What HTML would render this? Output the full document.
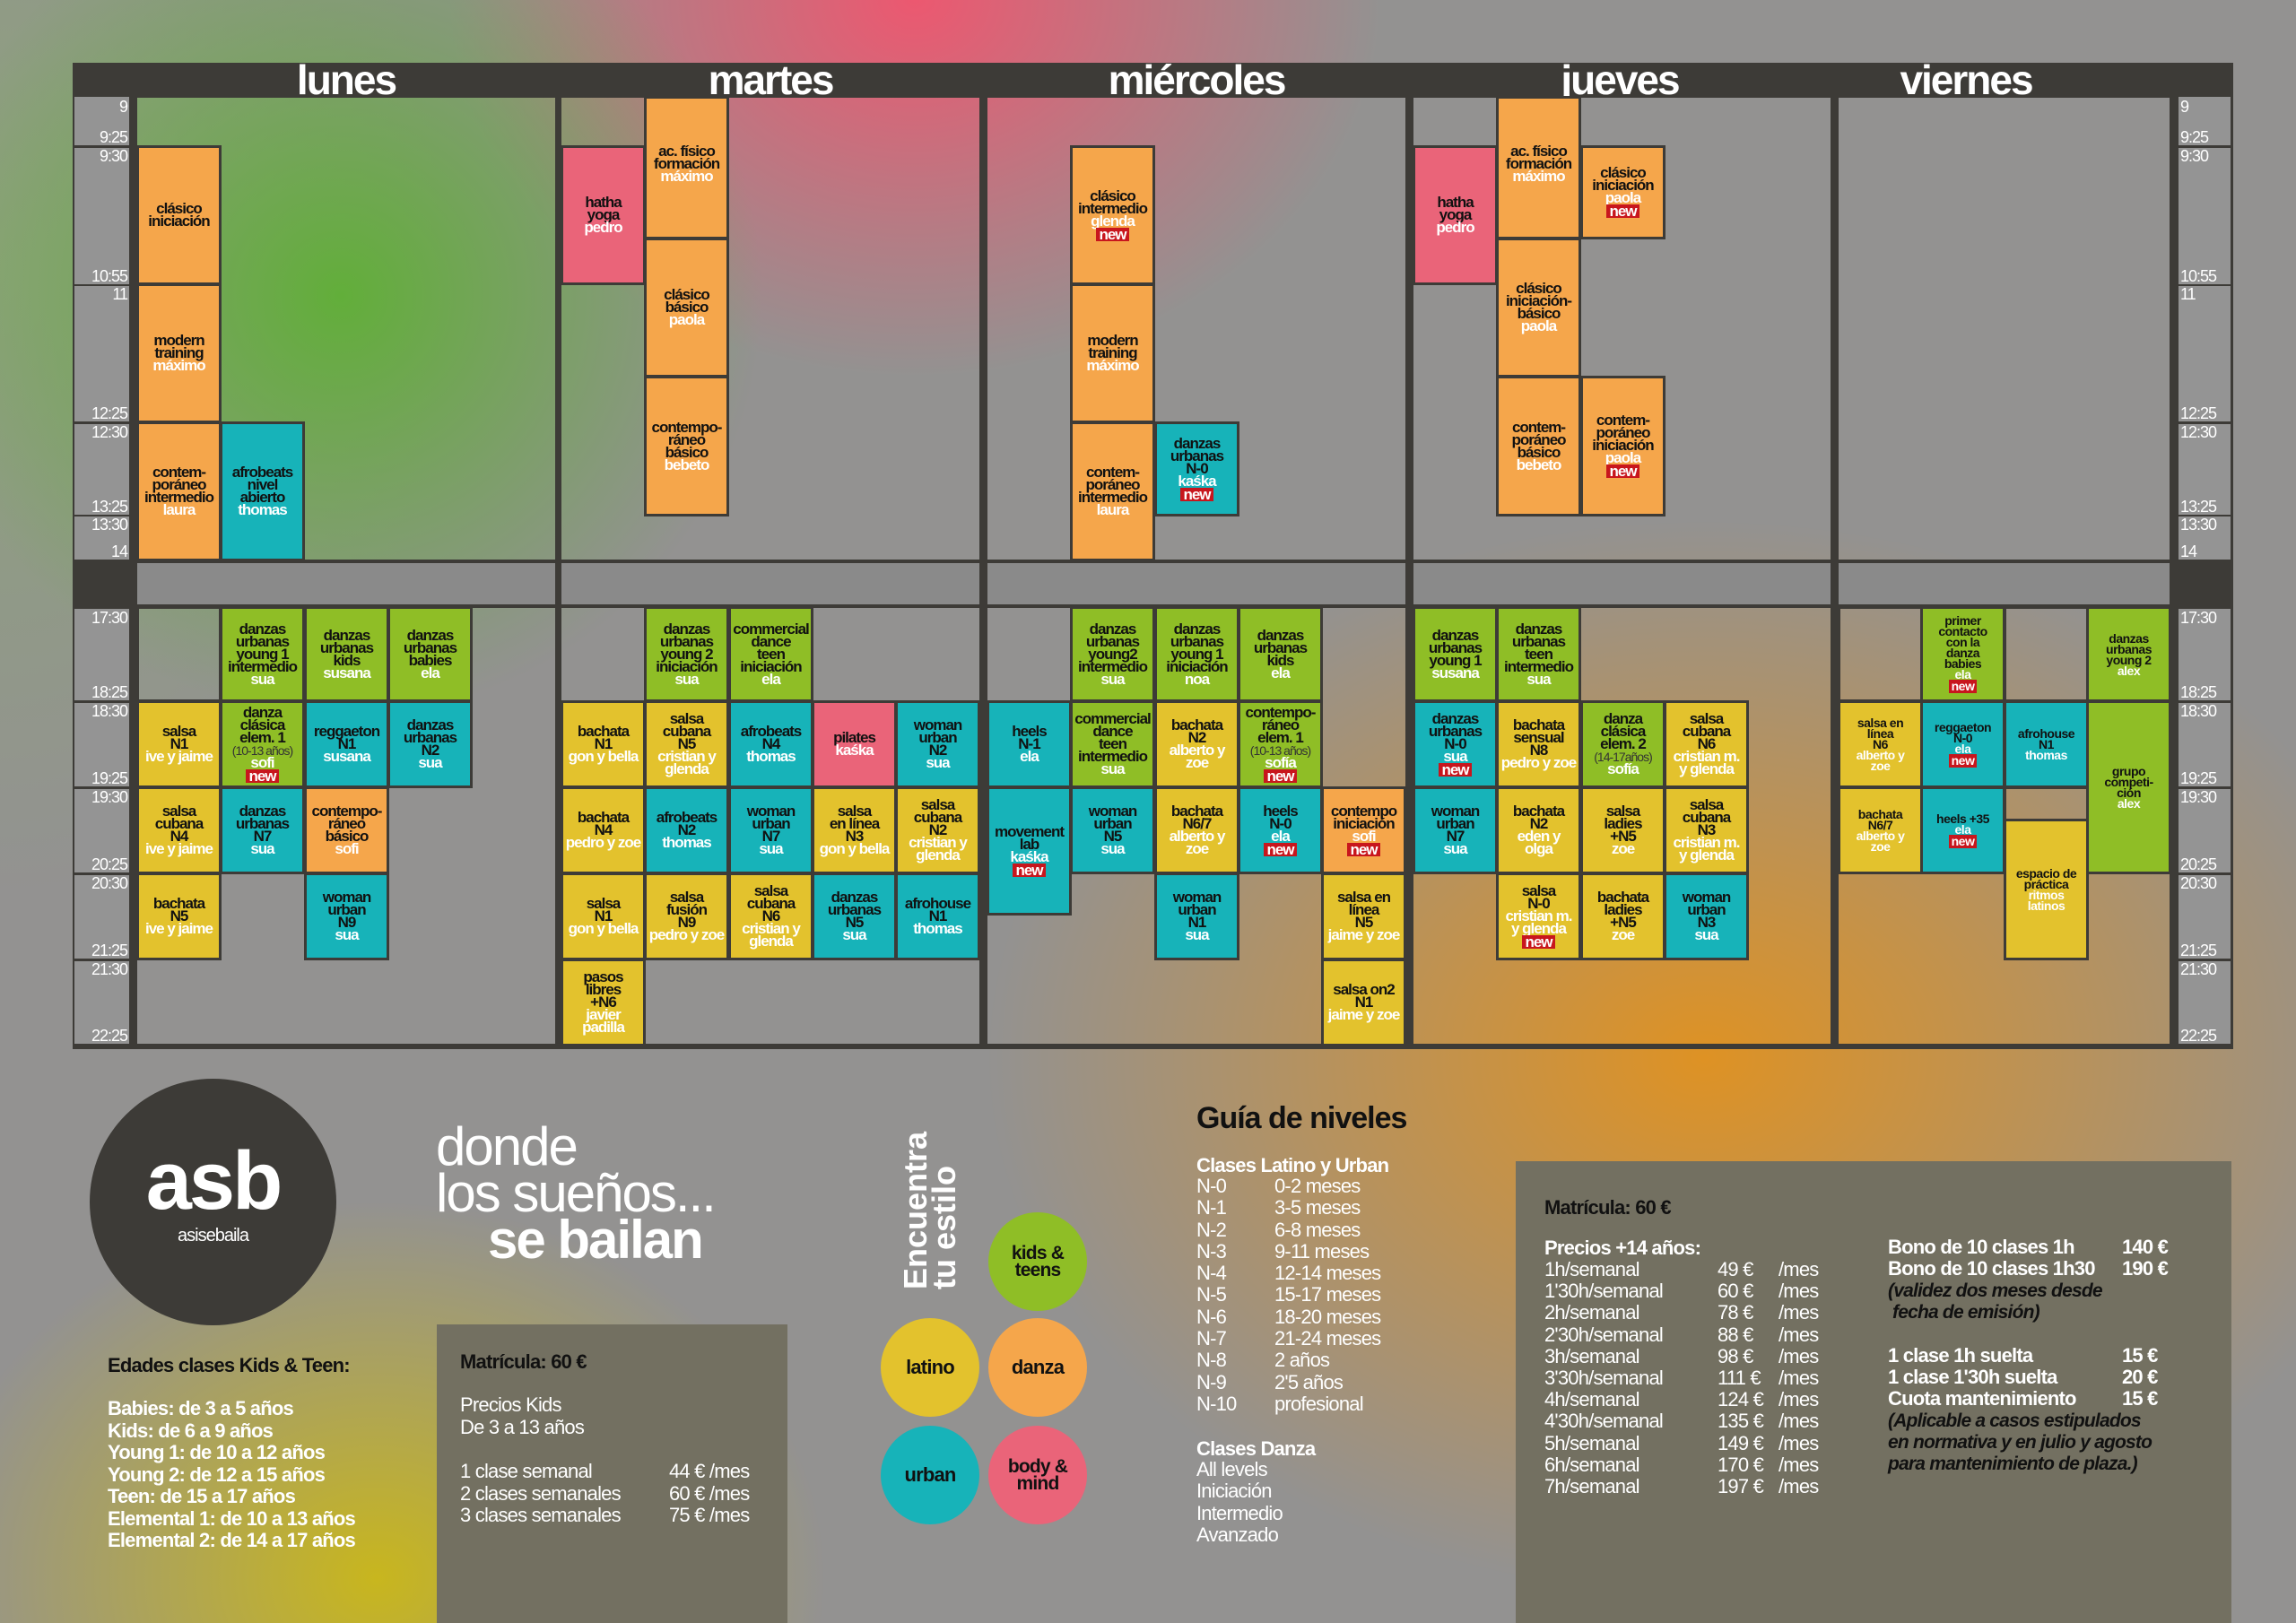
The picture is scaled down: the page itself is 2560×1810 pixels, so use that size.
<!DOCTYPE html>
<html><head><meta charset="utf-8"><style>
*{margin:0;padding:0;box-sizing:border-box}
body{width:2560px;height:1810px;position:relative;overflow:hidden;font-family:"Liberation Sans",sans-serif;
background:
radial-gradient(circle 470px at 380px 330px,rgba(98,174,58,1),rgba(98,174,58,0)),
radial-gradient(ellipse 520px 420px at 1020px 0px,rgba(236,88,112,1),rgba(236,88,112,0)),
radial-gradient(ellipse 800px 600px at 1900px 1180px,rgba(222,146,36,1),rgba(222,146,36,0)),
radial-gradient(ellipse 500px 420px at 420px 1760px,rgba(200,182,30,1),rgba(200,182,30,0)),
radial-gradient(ellipse 500px 700px at 0px 300px,rgba(140,165,120,.8),rgba(140,165,120,0)),
#939291;}
.a{position:absolute}
.dk{position:absolute;background:#3d3b37}
.gc{position:absolute;background:#949494}
.h{position:absolute;top:62px;color:#fff;font-weight:bold;font-size:46px;letter-spacing:-2px;transform:translateX(-50%)}
.tl,.tr{position:absolute;color:#fff;font-family:"Liberation Sans Narrow","Liberation Sans",sans-serif;font-size:18px;line-height:18px;letter-spacing:-1px}
.tl{left:83px;width:59px;text-align:right}
.tr{left:2431px}
.b{position:absolute;width:95px;border:3px solid #3d3b37;display:flex;flex-direction:column;justify-content:center;align-items:center;text-align:center;font-family:"Liberation Sans Narrow","Liberation Sans",sans-serif;font-weight:bold;font-size:17px;line-height:14px;letter-spacing:-1px;color:#111;white-space:nowrap}
.b i{font-style:normal;color:#fff}
.b u{text-decoration:none;background:#c8161d;color:#fff;padding:0 3px;line-height:15px}
.b s{text-decoration:none;font-weight:normal;color:#333;font-size:14px;letter-spacing:-1px;white-space:nowrap}
.v{font-family:"Liberation Sans",sans-serif;font-size:14px;line-height:12px;letter-spacing:-.5px}
.O{background:#f5a64b}.T{background:#17b3b9}.G{background:#8fbe26}.Y{background:#e3c22d}.P{background:#ea6479}.E{background:transparent}
</style></head><body>
<div class="dk" style="left:81px;top:70px;width:2409px;height:39px"></div>
<div class="dk" style="left:81px;top:108px;width:72px;height:1062px"></div>
<div class="dk" style="left:619px;top:108px;width:7px;height:1062px"></div>
<div class="dk" style="left:1092px;top:108px;width:9px;height:1062px"></div>
<div class="dk" style="left:1567px;top:108px;width:9px;height:1062px"></div>
<div class="dk" style="left:2041px;top:108px;width:9px;height:1062px"></div>
<div class="dk" style="left:2419px;top:108px;width:71px;height:1062px"></div>
<div class="dk" style="left:81px;top:1164px;width:2409px;height:6px"></div>
<div class="dk" style="left:153px;top:624px;width:2267px;height:54px"></div>
<div class="a" style="left:153px;top:628px;width:466px;height:46px;background:#8a8a8a"></div>
<div class="a" style="left:626px;top:628px;width:466px;height:46px;background:#8a8a8a"></div>
<div class="a" style="left:1101px;top:628px;width:466px;height:46px;background:#8a8a8a"></div>
<div class="a" style="left:1576px;top:628px;width:465px;height:46px;background:#8a8a8a"></div>
<div class="a" style="left:2050px;top:628px;width:369px;height:46px;background:#8a8a8a"></div>
<div class="gc" style="left:83px;top:108px;width:61px;height:54px"></div>
<div class="gc" style="left:83px;top:165px;width:61px;height:152px"></div>
<div class="gc" style="left:83px;top:319px;width:61px;height:151px"></div>
<div class="gc" style="left:83px;top:473px;width:61px;height:101px"></div>
<div class="gc" style="left:83px;top:576px;width:61px;height:48px"></div>
<div class="gc" style="left:83px;top:679px;width:61px;height:102px"></div>
<div class="gc" style="left:83px;top:784px;width:61px;height:93px"></div>
<div class="gc" style="left:83px;top:880px;width:61px;height:93px"></div>
<div class="gc" style="left:83px;top:976px;width:61px;height:93px"></div>
<div class="gc" style="left:83px;top:1072px;width:61px;height:92px"></div>
<div class="gc" style="left:2429px;top:108px;width:58px;height:54px"></div>
<div class="gc" style="left:2429px;top:165px;width:58px;height:152px"></div>
<div class="gc" style="left:2429px;top:319px;width:58px;height:151px"></div>
<div class="gc" style="left:2429px;top:473px;width:58px;height:101px"></div>
<div class="gc" style="left:2429px;top:576px;width:58px;height:48px"></div>
<div class="gc" style="left:2429px;top:679px;width:58px;height:102px"></div>
<div class="gc" style="left:2429px;top:784px;width:58px;height:93px"></div>
<div class="gc" style="left:2429px;top:880px;width:58px;height:93px"></div>
<div class="gc" style="left:2429px;top:976px;width:58px;height:93px"></div>
<div class="gc" style="left:2429px;top:1072px;width:58px;height:92px"></div>
<div class="h" style="left:386px">lunes</div>
<div class="h" style="left:859px">martes</div>
<div class="h" style="left:1334px">miércoles</div>
<div class="h" style="left:1806px">jueves</div>
<div class="h" style="left:2192px">viernes</div>
<div class="tl" style="top:110px">9</div><div class="tl" style="top:144px">9:25</div>
<div class="tl" style="top:165px">9:30</div><div class="tl" style="top:299px">10:55</div>
<div class="tl" style="top:319px">11</div><div class="tl" style="top:452px">12:25</div>
<div class="tl" style="top:473px">12:30</div><div class="tl" style="top:556px">13:25</div>
<div class="tl" style="top:576px">13:30</div><div class="tl" style="top:606px">14</div>
<div class="tl" style="top:680px">17:30</div><div class="tl" style="top:763px">18:25</div>
<div class="tl" style="top:784px">18:30</div><div class="tl" style="top:859px">19:25</div>
<div class="tl" style="top:880px">19:30</div><div class="tl" style="top:955px">20:25</div>
<div class="tl" style="top:976px">20:30</div><div class="tl" style="top:1051px">21:25</div>
<div class="tl" style="top:1072px">21:30</div><div class="tl" style="top:1146px">22:25</div>
<div class="tr" style="top:110px">9</div><div class="tr" style="top:144px">9:25</div>
<div class="tr" style="top:165px">9:30</div><div class="tr" style="top:299px">10:55</div>
<div class="tr" style="top:319px">11</div><div class="tr" style="top:452px">12:25</div>
<div class="tr" style="top:473px">12:30</div><div class="tr" style="top:556px">13:25</div>
<div class="tr" style="top:576px">13:30</div><div class="tr" style="top:606px">14</div>
<div class="tr" style="top:680px">17:30</div><div class="tr" style="top:763px">18:25</div>
<div class="tr" style="top:784px">18:30</div><div class="tr" style="top:859px">19:25</div>
<div class="tr" style="top:880px">19:30</div><div class="tr" style="top:955px">20:25</div>
<div class="tr" style="top:976px">20:30</div><div class="tr" style="top:1051px">21:25</div>
<div class="tr" style="top:1072px">21:30</div><div class="tr" style="top:1146px">22:25</div>

<div class="b O" style="left:152px;top:162px;height:156px">clásico<br>iniciación</div>
<div class="b O" style="left:152px;top:316px;height:156px">modern<br>training<br><i>máximo</i></div>
<div class="b O" style="left:152px;top:470px;height:156px">contem-<br>poráneo<br>intermedio<br><i>laura</i></div>
<div class="b T" style="left:245px;top:470px;height:156px">afrobeats<br>nivel<br>abierto<br><i>thomas</i></div>
<div class="b P" style="left:625px;top:162px;height:156px">hatha<br>yoga<br><i>pedro</i></div>
<div class="b O" style="left:718px;top:107px;height:160px;justify-content:flex-start;padding-top:52px">ac. físico<br>formación<br><i>máximo</i></div>
<div class="b O" style="left:718px;top:265px;height:156px">clásico<br>básico<br><i>paola</i></div>
<div class="b O" style="left:718px;top:419px;height:157px">contempo-<br>ráneo<br>básico<br><i>bebeto</i></div>
<div class="b O" style="left:1193px;top:162px;height:156px">clásico<br>intermedio<br><i>glenda</i><u>new</u></div>
<div class="b O" style="left:1193px;top:316px;height:156px">modern<br>training<br><i>máximo</i></div>
<div class="b O" style="left:1193px;top:470px;height:156px">contem-<br>poráneo<br>intermedio<br><i>laura</i></div>
<div class="b T" style="left:1287px;top:470px;height:106px">danzas<br>urbanas<br>N-0<br><i>kaśka</i><u>new</u></div>
<div class="b P" style="left:1575px;top:162px;height:156px">hatha<br>yoga<br><i>pedro</i></div>
<div class="b O" style="left:1668px;top:107px;height:160px;justify-content:flex-start;padding-top:52px">ac. físico<br>formación<br><i>máximo</i></div>
<div class="b O" style="left:1668px;top:265px;height:156px">clásico<br>iniciación-<br>básico<br><i>paola</i></div>
<div class="b O" style="left:1668px;top:419px;height:157px">contem-<br>poráneo<br>básico<br><i>bebeto</i></div>
<div class="b O" style="left:1762px;top:162px;height:105px">clásico<br>iniciación<br><i>paola</i><u>new</u></div>
<div class="b O" style="left:1762px;top:419px;height:157px">contem-<br>poráneo<br>iniciación<br><i>paola</i><u>new</u></div>

<div class="b E" style="left:152px;top:676px;height:107px"></div>
<div class="b G" style="left:245px;top:676px;height:107px">danzas<br>urbanas<br>young 1<br>intermedio<br><i>sua</i></div>
<div class="b G" style="left:339px;top:676px;height:107px">danzas<br>urbanas<br>kids<br><i>susana</i></div>
<div class="b G" style="left:432px;top:676px;height:107px">danzas<br>urbanas<br>babies<br><i>ela</i></div>
<div class="b Y" style="left:152px;top:781px;height:98px">salsa<br>N1<br><i>ive y jaime</i></div>
<div class="b G" style="left:245px;top:781px;height:98px">danza<br>clásica<br>elem. 1<br><s>(10-13 años)</s><i>sofi</i><u>new</u></div>
<div class="b T" style="left:339px;top:781px;height:98px">reggaeton<br>N1<br><i>susana</i></div>
<div class="b T" style="left:432px;top:781px;height:98px">danzas<br>urbanas<br>N2<br><i>sua</i></div>
<div class="b Y" style="left:152px;top:877px;height:98px">salsa<br>cubana<br>N4<br><i>ive y jaime</i></div>
<div class="b T" style="left:245px;top:877px;height:98px">danzas<br>urbanas<br>N7<br><i>sua</i></div>
<div class="b O" style="left:339px;top:877px;height:98px">contempo-<br>ráneo<br>básico<br><i>sofi</i></div>
<div class="b Y" style="left:152px;top:973px;height:98px">bachata<br>N5<br><i>ive y jaime</i></div>
<div class="b T" style="left:339px;top:973px;height:98px">woman<br>urban<br>N9<br><i>sua</i></div>
<div class="b G" style="left:718px;top:676px;height:107px">danzas<br>urbanas<br>young 2<br>iniciación<br><i>sua</i></div>
<div class="b G" style="left:812px;top:676px;height:107px">commercial<br>dance<br>teen<br>iniciación<br><i>ela</i></div>
<div class="b Y" style="left:625px;top:781px;height:98px">bachata<br>N1<br><i>gon y bella</i></div>
<div class="b Y" style="left:718px;top:781px;height:98px">salsa<br>cubana<br>N5<br><i>cristian y<br>glenda</i></div>
<div class="b T" style="left:812px;top:781px;height:98px">afrobeats<br>N4<br><i>thomas</i></div>
<div class="b P" style="left:905px;top:781px;height:98px">pilates<br><i>kaśka</i></div>
<div class="b T" style="left:998px;top:781px;height:98px">woman<br>urban<br>N2<br><i>sua</i></div>
<div class="b Y" style="left:625px;top:877px;height:98px">bachata<br>N4<br><i>pedro y zoe</i></div>
<div class="b T" style="left:718px;top:877px;height:98px">afrobeats<br>N2<br><i>thomas</i></div>
<div class="b T" style="left:812px;top:877px;height:98px">woman<br>urban<br>N7<br><i>sua</i></div>
<div class="b Y" style="left:905px;top:877px;height:98px">salsa<br>en línea<br>N3<br><i>gon y bella</i></div>
<div class="b Y" style="left:998px;top:877px;height:98px">salsa<br>cubana<br>N2<br><i>cristian y<br>glenda</i></div>
<div class="b Y" style="left:625px;top:973px;height:98px">salsa<br>N1<br><i>gon y bella</i></div>
<div class="b Y" style="left:718px;top:973px;height:98px">salsa<br>fusión<br>N9<br><i>pedro y zoe</i></div>
<div class="b Y" style="left:812px;top:973px;height:98px">salsa<br>cubana<br>N6<br><i>cristian y<br>glenda</i></div>
<div class="b T" style="left:905px;top:973px;height:98px">danzas<br>urbanas<br>N5<br><i>sua</i></div>
<div class="b T" style="left:998px;top:973px;height:98px">afrohouse<br>N1<br><i>thomas</i></div>
<div class="b Y" style="left:625px;top:1069px;height:98px">pasos<br>libres<br>+N6<br><i>javier<br>padilla</i></div>
<div class="b G" style="left:1193px;top:676px;height:107px">danzas<br>urbanas<br>young2<br>intermedio<br><i>sua</i></div>
<div class="b G" style="left:1287px;top:676px;height:107px">danzas<br>urbanas<br>young 1<br>iniciación<br><i>noa</i></div>
<div class="b G" style="left:1380px;top:676px;height:107px">danzas<br>urbanas<br>kids<br><i>ela</i></div>
<div class="b T" style="left:1100px;top:781px;height:98px">heels<br>N-1<br><i>ela</i></div>
<div class="b G" style="left:1193px;top:781px;height:98px">commercial<br>dance<br>teen<br>intermedio<br><i>sua</i></div>
<div class="b Y" style="left:1287px;top:781px;height:98px">bachata<br>N2<br><i>alberto y<br>zoe</i></div>
<div class="b G" style="left:1380px;top:781px;height:98px">contempo-<br>ráneo<br>elem. 1<br><s>(10-13 años)</s><i>sofía</i><u>new</u></div>
<div class="b T" style="left:1100px;top:877px;height:144px">movement<br>lab<br><i>kaśka</i><u>new</u></div>
<div class="b T" style="left:1193px;top:877px;height:98px">woman<br>urban<br>N5<br><i>sua</i></div>
<div class="b Y" style="left:1287px;top:877px;height:98px">bachata<br>N6/7<br><i>alberto y<br>zoe</i></div>
<div class="b T" style="left:1380px;top:877px;height:98px">heels<br>N-0<br><i>ela</i><u>new</u></div>
<div class="b O" style="left:1473px;top:877px;height:98px">contempo<br>iniciación<br><i>sofi</i><u>new</u></div>
<div class="b T" style="left:1287px;top:973px;height:98px">woman<br>urban<br>N1<br><i>sua</i></div>
<div class="b Y" style="left:1473px;top:973px;height:98px">salsa en<br>línea<br>N5<br><i>jaime y zoe</i></div>
<div class="b Y" style="left:1473px;top:1069px;height:98px">salsa on2<br>N1<br><i>jaime y zoe</i></div>
<div class="b G" style="left:1575px;top:676px;height:107px">danzas<br>urbanas<br>young 1<br><i>susana</i></div>
<div class="b G" style="left:1668px;top:676px;height:107px">danzas<br>urbanas<br>teen<br>intermedio<br><i>sua</i></div>
<div class="b T" style="left:1575px;top:781px;height:98px">danzas<br>urbanas<br>N-0<br><i>sua</i><u>new</u></div>
<div class="b Y" style="left:1668px;top:781px;height:98px">bachata<br>sensual<br>N8<br><i>pedro y zoe</i></div>
<div class="b G" style="left:1762px;top:781px;height:98px">danza<br>clásica<br>elem. 2<br><s>(14-17años)</s><i>sofía</i></div>
<div class="b Y" style="left:1855px;top:781px;height:98px">salsa<br>cubana<br>N6<br><i>cristian m.<br>y glenda</i></div>
<div class="b T" style="left:1575px;top:877px;height:98px">woman<br>urban<br>N7<br><i>sua</i></div>
<div class="b Y" style="left:1668px;top:877px;height:98px">bachata<br>N2<br><i>eden y<br>olga</i></div>
<div class="b Y" style="left:1762px;top:877px;height:98px">salsa<br>ladies<br>+N5<br><i>zoe</i></div>
<div class="b Y" style="left:1855px;top:877px;height:98px">salsa<br>cubana<br>N3<br><i>cristian m.<br>y glenda</i></div>
<div class="b Y" style="left:1668px;top:973px;height:98px">salsa<br>N-0<br><i>cristian m.<br>y glenda</i><u>new</u></div>
<div class="b Y" style="left:1762px;top:973px;height:98px">bachata<br>ladies<br>+N5<br><i>zoe</i></div>
<div class="b T" style="left:1855px;top:973px;height:98px">woman<br>urban<br>N3<br><i>sua</i></div>
<div class="b E" style="left:2049px;top:676px;height:107px"></div>
<div class="b E" style="left:2234px;top:676px;height:107px"></div>
<div class="b E" style="left:2234px;top:877px;height:40px"></div>
<div class="b G v" style="left:2141px;top:676px;height:107px">primer<br>contacto<br>con la<br>danza<br>babies<br><i>ela</i><u>new</u></div>
<div class="b G v" style="left:2326px;top:676px;height:107px">danzas<br>urbanas<br>young 2<br><i>alex</i></div>
<div class="b Y v" style="left:2049px;top:781px;height:98px">salsa en<br>línea<br>N6<br><i>alberto y<br>zoe</i></div>
<div class="b T v" style="left:2141px;top:781px;height:98px">reggaeton<br>N-0<br><i>ela</i><u>new</u></div>
<div class="b T v" style="left:2234px;top:781px;height:98px">afrohouse<br>N1<br><i>thomas</i></div>
<div class="b G v" style="left:2326px;top:781px;height:194px">grupo<br>competi-<br>ción<br><i>alex</i></div>
<div class="b Y v" style="left:2049px;top:877px;height:98px">bachata<br>N6/7<br><i>alberto y<br>zoe</i></div>
<div class="b T v" style="left:2141px;top:877px;height:98px">heels +35<br><i>ela</i><u>new</u></div>
<div class="b Y v" style="left:2234px;top:913px;height:158px">espacio de<br>práctica<br><i>ritmos<br>latinos</i></div>

<div class="a" style="left:100px;top:1203px;width:275px;height:275px;border-radius:50%;background:#3d3b37"></div>
<div class="a" style="left:100px;top:1265px;width:275px;text-align:center;color:#fff;font-weight:bold;font-size:92px;letter-spacing:-3px">asb</div>
<div class="a" style="left:100px;top:1367px;width:275px;text-align:center;color:#fff;font-size:20px;letter-spacing:-1px">asisebaila</div>
<div class="a" style="left:486px;top:1253px;color:#fff;font-size:60px;line-height:52px;letter-spacing:-2px;font-family:'Liberation Sans Narrow','Liberation Sans',sans-serif">donde<br>los sueños...<br><b style="margin-left:58px;font-family:'Liberation Sans',sans-serif">se bailan</b></div>
<div class="a" style="left:120px;top:1510px;font-weight:bold;font-size:22px;color:#111;letter-spacing:-.8px">Edades clases Kids &amp; Teen:</div>
<div class="a" style="left:120px;top:1559px;font-weight:bold;font-size:22px;line-height:24.5px;color:#fff;letter-spacing:-.8px">Babies: de 3 a 5 años<br>Kids: de 6 a 9 años<br>Young 1: de 10 a 12 años<br>Young 2: de 12 a 15 años<br>Teen: de 15 a 17 años<br>Elemental 1: de 10 a 13 años<br>Elemental 2: de 14 a 17 años</div>
<div class="a" style="left:487px;top:1477px;width:391px;height:333px;background:#737061"></div>
<div class="a" style="left:513px;top:1506px;font-weight:bold;font-size:22px;color:#111;letter-spacing:-.8px">Matrícula: 60 €</div>
<div class="a" style="left:513px;top:1555px;font-size:22px;line-height:24.5px;color:#fff;letter-spacing:-.8px">Precios Kids<br>De 3 a 13 años</div>
<div class="a" style="left:513px;top:1629px;font-size:22px;line-height:24.5px;color:#fff;letter-spacing:-.8px">1 clase semanal<br>2 clases semanales<br>3 clases semanales</div>
<div class="a" style="left:746px;top:1629px;font-size:22px;line-height:24.5px;color:#fff;letter-spacing:-.8px">44 € /mes<br>60 € /mes<br>75 € /mes</div>
<div class="a" style="left:1037px;top:1350px;transform:translate(-50%,-50%) rotate(-90deg);color:#fff;font-weight:bold;font-size:36px;line-height:32px;white-space:nowrap">Encuentra<br>tu estilo</div>
<div class="a" style="left:1102px;top:1352px;width:110px;height:110px;border-radius:50%;background:#8fbe26;display:flex;align-items:center;justify-content:center;text-align:center;font-weight:bold;font-size:21px;line-height:19px;letter-spacing:-.8px;color:#111">kids &amp;<br>teens</div>
<div class="a" style="left:982px;top:1470px;width:110px;height:110px;border-radius:50%;background:#e3c22d;display:flex;align-items:center;justify-content:center;font-weight:bold;font-size:22px;letter-spacing:-.8px;color:#111">latino</div>
<div class="a" style="left:1102px;top:1470px;width:110px;height:110px;border-radius:50%;background:#f5a64b;display:flex;align-items:center;justify-content:center;font-weight:bold;font-size:22px;letter-spacing:-.8px;color:#111">danza</div>
<div class="a" style="left:982px;top:1590px;width:110px;height:110px;border-radius:50%;background:#17b3b9;display:flex;align-items:center;justify-content:center;font-weight:bold;font-size:22px;letter-spacing:-.8px;color:#111">urban</div>
<div class="a" style="left:1102px;top:1590px;width:110px;height:110px;border-radius:50%;background:#ea6479;display:flex;align-items:center;justify-content:center;text-align:center;font-weight:bold;font-size:21px;line-height:19px;letter-spacing:-.8px;color:#111">body &amp;<br>mind</div>
<div class="a" style="left:1334px;top:1228px;font-weight:bold;font-size:34px;color:#111;letter-spacing:-1px">Guía de niveles</div>
<div class="a" style="left:1334px;top:1287px;font-weight:bold;font-size:22px;color:#fff;letter-spacing:-.8px">Clases Latino y Urban</div>
<div class="a" style="left:1334px;top:1311px;font-size:22px;line-height:24.3px;color:#fff;letter-spacing:-.8px">N-0<br>N-1<br>N-2<br>N-3<br>N-4<br>N-5<br>N-6<br>N-7<br>N-8<br>N-9<br>N-10</div>
<div class="a" style="left:1421px;top:1311px;font-size:22px;line-height:24.3px;color:#fff;letter-spacing:-.8px">0-2 meses<br>3-5 meses<br>6-8 meses<br>9-11 meses<br>12-14 meses<br>15-17 meses<br>18-20 meses<br>21-24 meses<br>2 años<br>2'5 años<br>profesional</div>
<div class="a" style="left:1334px;top:1603px;font-weight:bold;font-size:22px;color:#fff;letter-spacing:-.8px">Clases Danza</div>
<div class="a" style="left:1334px;top:1627px;font-size:22px;line-height:24.3px;color:#fff;letter-spacing:-.8px">All levels<br>Iniciación<br>Intermedio<br>Avanzado</div>
<div class="a" style="left:1690px;top:1295px;width:798px;height:515px;background:#737061"></div>
<div class="a" style="left:1722px;top:1334px;font-weight:bold;font-size:22px;color:#111;letter-spacing:-.8px">Matrícula: 60 €</div>
<div class="a" style="left:1722px;top:1379px;font-weight:bold;font-size:22px;color:#fff;letter-spacing:-.8px">Precios +14 años:</div>
<div class="a" style="left:1722px;top:1404px;font-size:22px;line-height:24.2px;color:#fff;letter-spacing:-.8px">1h/semanal<br>1'30h/semanal<br>2h/semanal<br>2'30h/semanal<br>3h/semanal<br>3'30h/semanal<br>4h/semanal<br>4'30h/semanal<br>5h/semanal<br>6h/semanal<br>7h/semanal</div>
<div class="a" style="left:1915px;top:1404px;font-size:22px;line-height:24.2px;color:#fff;letter-spacing:-.8px">49 €<br>60 €<br>78 €<br>88 €<br>98 €<br>111 €<br>124 €<br>135 €<br>149 €<br>170 €<br>197 €</div>
<div class="a" style="left:1983px;top:1404px;font-size:22px;line-height:24.2px;color:#fff;letter-spacing:-.8px">/mes<br>/mes<br>/mes<br>/mes<br>/mes<br>/mes<br>/mes<br>/mes<br>/mes<br>/mes<br>/mes</div>
<div class="a" style="left:2105px;top:1379px;font-weight:bold;font-size:22px;line-height:24.2px;color:#fff;letter-spacing:-.8px">Bono de 10 clases 1h<br>Bono de 10 clases 1h30</div>
<div class="a" style="left:2366px;top:1379px;font-weight:bold;font-size:22px;line-height:24.2px;color:#fff;letter-spacing:-.8px">140 €<br>190 €</div>
<div class="a" style="left:2105px;top:1428px;font-weight:bold;font-style:italic;font-size:21px;line-height:24.2px;color:#111;letter-spacing:-.8px">(validez dos meses desde<br>&nbsp;fecha de emisión)</div>
<div class="a" style="left:2105px;top:1500px;font-weight:bold;font-size:22px;line-height:24.2px;color:#fff;letter-spacing:-.8px">1 clase 1h suelta<br>1 clase 1'30h suelta<br>Cuota mantenimiento</div>
<div class="a" style="left:2366px;top:1500px;font-weight:bold;font-size:22px;line-height:24.2px;color:#fff;letter-spacing:-.8px">15 €<br>20 €<br>15 €</div>
<div class="a" style="left:2105px;top:1573px;font-weight:bold;font-style:italic;font-size:21px;line-height:24.2px;color:#111;letter-spacing:-.8px">(Aplicable a casos estipulados<br>en normativa y en julio y agosto<br>para mantenimiento de plaza.)</div>
</body></html>
